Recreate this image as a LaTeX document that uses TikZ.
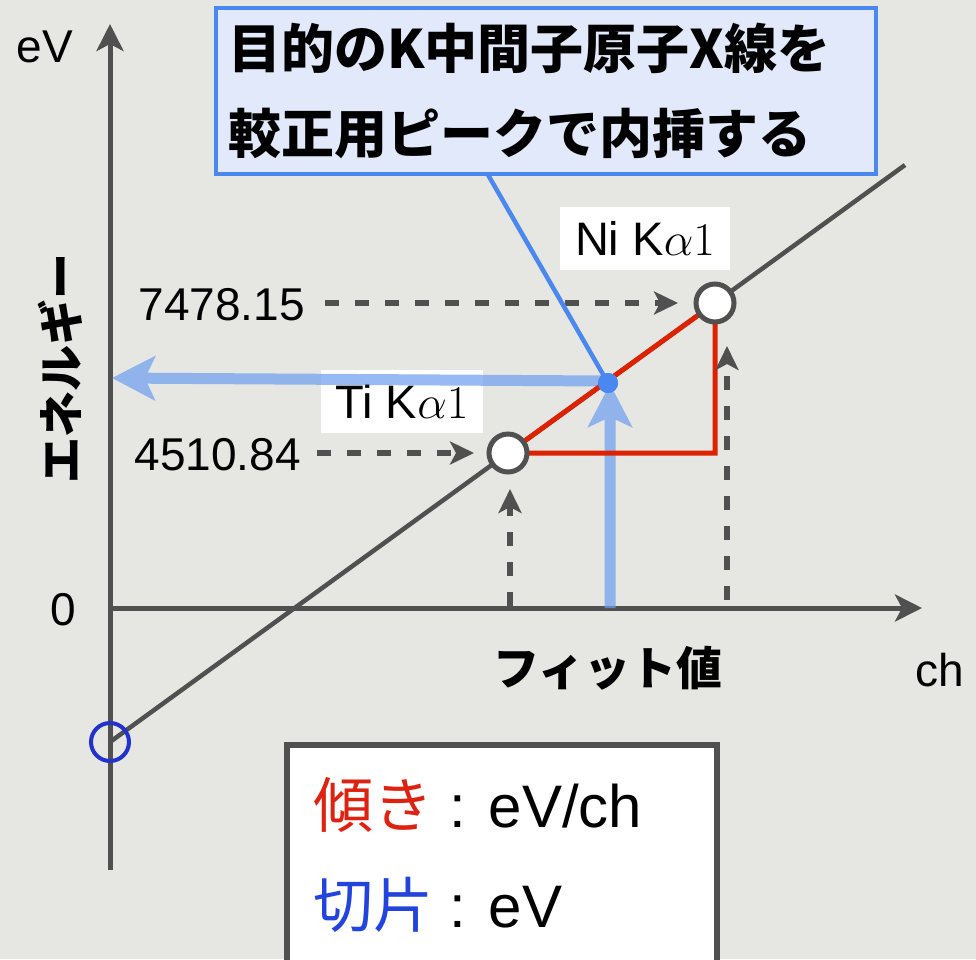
\RequirePackage{fix-cm}
\documentclass[tikz,border=0pt]{standalone}
\usepackage[no-math]{fontspec}
\setmainfont{Liberation Sans}
\newfontfamily\jp{Noto Sans CJK JP}
\usetikzlibrary{arrows.meta}
\definecolor{bg}{HTML}{E6E6E2}
\definecolor{dg}{HTML}{505050}
\definecolor{cred}{HTML}{DD2200}
\definecolor{cblue}{HTML}{4A88F0}
\definecolor{lblue}{HTML}{6D9EF0}
\definecolor{cbox}{HTML}{E1E9FA}
\definecolor{iblue}{HTML}{2233CC}
\definecolor{jred}{HTML}{DD2211}
\definecolor{jblue}{HTML}{2244DD}
\begin{document}
\begin{tikzpicture}[x=1pt,y=-1pt,
  axis/.style={draw=dg,line width=5pt,-{Stealth[length=27pt,width=27pt,inset=7pt]}},
  fitline/.style={draw=dg,line width=4.5pt},
  dasharrow/.style={draw=dg,line width=5.5pt,dash pattern=on 14pt off 16pt,-{Stealth[length=24pt,width=23pt,inset=6pt]}},
  bluearrow/.style={draw=lblue,line width=11pt,-{Stealth[length=43pt,width=44pt,inset=10pt]}},
  redline/.style={draw=cred,line width=5pt,line join=miter},
  peak/.style={circle,draw=dg,fill=white,line width=5pt,minimum size=38pt,inner sep=0pt},
  label/.style={fill=white,inner xsep=15pt,minimum height=63pt,font=\fontsize{47}{50}\selectfont},
  num/.style={font=\fontsize{46}{50}\selectfont,inner sep=0pt},
  jpbold/.style={font=\jp\bfseries\fontsize{46}{50}\selectfont,inner sep=0pt}
]
\fill[bg] (0,0) rectangle (976,959);
\useasboundingbox (0,0) rectangle (976,959);

% axes
\coordinate (ybot) at (110,870);
\coordinate (ytop) at (110,24);
\coordinate (orig) at (110,608);
\coordinate (xend) at (922,608);
\draw[axis] (ybot) -- (ytop);
\draw[axis] (orig) -- (xend);

\node[num] (eV) at (45,47) {eV};
\node[num] (zero) at (63,610) {0};
\node[num] (ch) at (940,670) {ch};
\node[jpbold] (fit) at (608,668) {フィット値};
\node[jpbold,rotate=90] (ene) at (60,368) {エネルギー};

% fit line
\coordinate (lA) at (110,742);
\coordinate (lB) at (905,165);
\draw[fitline] (lA) -- (lB);

% labels
\node[label] (tilab) at (402,401) {Ti K$\alpha1$};
\node[label] (nilab) at (645,238) {Ni K$\alpha1$};

% peaks positions
\coordinate (tic) at (508,453);
\coordinate (nic) at (715,303);
\coordinate (corner) at (715,453);

% blue thick arrows
\coordinate (dotc) at (608,383);
\coordinate (vbot) at (610,608);
\coordinate (vtop) at (610,384);
\coordinate (hstart) at (606,381);
\coordinate (hend) at (112,378);
\begin{scope}[transparency group,opacity=0.7]
\draw[bluearrow] (vbot) -- (vtop);
\draw[bluearrow] (hstart) -- (hend);
\end{scope}

% red triangle
\draw[redline] (tic) -- (corner) -- (nic) -- cycle;

% dashed arrows
\node[num,anchor=east] (n7478) at (305,305) {7478.15};
\node[num,anchor=east] (n4510) at (301,455) {4510.84};
\coordinate (d1s) at (325,303);
\coordinate (d1e) at (678,303);
\coordinate (d2s) at (317,453);
\coordinate (d2e) at (474,453);
\coordinate (d3s) at (510,606);
\coordinate (d3e) at (510,489);
\coordinate (d4s) at (727,600);
\coordinate (d4e) at (727,346);
\draw[dasharrow] (d1s) -- (d1e);
\draw[dasharrow] (d2s) -- (d2e);
\draw[dasharrow] (d3s) -- (d3e);
\draw[dasharrow] (d4s) -- (d4e);

% peak circles
\node[peak] (ti) at (tic) {};
\node[peak] (ni) at (nic) {};

% intercept
\node[circle,draw=iblue,line width=4pt,minimum size=38pt,inner sep=0pt] (icpt) at (lA) {};

% callout
\node[draw=cblue,fill=cbox,line width=4.5pt,text width=636pt,inner xsep=12pt,
  minimum height=166pt,align=left,font=\jp\bfseries\fontsize{53}{85}\selectfont]
  (call) at (546,91) {目的のK中間子原子X線を\\較正用ピークで内挿する};
\coordinate (cfoot) at (487,173);
\node[circle,fill=cblue,minimum size=20pt,inner sep=0pt] (dot) at (dotc) {};
\draw[cblue,line width=4.5pt] (cfoot) -- (dot.center);
\node[circle,fill=cblue,minimum size=20pt,inner sep=0pt] at (dotc) {};

% legend
\node[draw=dg,fill=white,line width=6pt,minimum width=430pt,minimum height=260pt,anchor=north west] (legend) at (284,742) {};
\node[anchor=west,inner sep=0pt,font=\fontsize{60}{64}\selectfont] (leg1) at (313,805) {{\jp\color{jred}傾き} : eV/ch};
\node[anchor=west,inner sep=0pt,font=\fontsize{60}{64}\selectfont] (leg2) at (313,905) {{\jp\color{jblue}切片} : eV};
\end{tikzpicture}
\end{document}
